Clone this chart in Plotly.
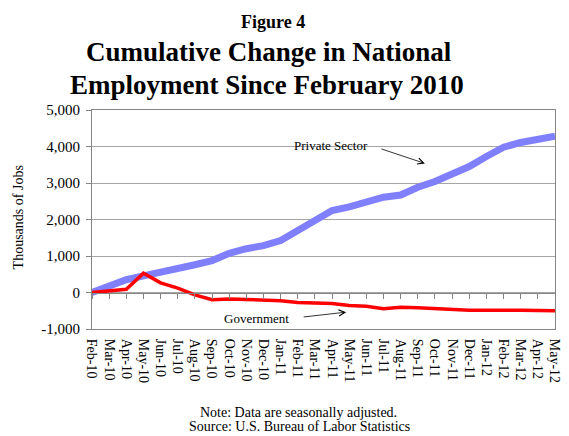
import plotly.graph_objects as go

# Months from February 2010 through May 2012
months = [
    "Feb-10", "Mar-10", "Apr-10", "May-10", "Jun-10", "Jul-10", "Aug-10",
    "Sep-10", "Oct-10", "Nov-10", "Dec-10", "Jan-11", "Feb-11", "Mar-11",
    "Apr-11", "May-11", "Jun-11", "Jul-11", "Aug-11", "Sep-11", "Oct-11",
    "Nov-11", "Dec-11", "Jan-12", "Feb-12", "Mar-12", "Apr-12", "May-12",
]

# Cumulative change since Feb 2010, thousands of jobs
private_sector = [
    0, 180, 350, 455, 545, 640, 760, 875, 1075, 1200, 1285, 1425, 1690, 1970,
    2245, 2345, 2455, 2610, 2670, 2885, 3040, 3225, 3450, 3725, 3980, 4110,
    4185, 4280,
]
government = [
    0, 55, 90, 530, 265, 120, -65, -200, -175, -190, -200, -228, -272, -283,
    -300, -355, -375, -445, -405, -420, -447, -475, -484, -484, -475, -484,
    -493, -502,
]

y_ticks = [-1000, 0, 1000, 2000, 3000, 4000, 5000]
y_tick_text = ["-1,000", "0", "1,000", "2,000", "3,000", "4,000", "5,000"]

SERIF = "Liberation Serif, Times New Roman, serif"
AXIS_GRAY = "#868686"

fig = go.Figure()
fig.add_trace(go.Scatter(
    x=months, y=private_sector, mode="lines", name="Private Sector",
    line=dict(color="#8080FF", width=7), xaxis="x", yaxis="y",
    hoverinfo="x+y",
))
fig.add_trace(go.Scatter(
    x=months, y=government, mode="lines", name="Government",
    line=dict(color="#FF0000", width=3.5), xaxis="x2", yaxis="y",
    hoverinfo="x+y",
))

n = len(months)
common_x = dict(
    type="category", categoryorder="array", categoryarray=months,
    range=[0, n - 1], tickmode="array", tickvals=months,
)

annotations = [
    dict(text="<b>Figure 4</b>", x=0.392, y=1.404, font=dict(size=18)),
    dict(text="<b>Cumulative Change in National</b>", x=0.383, y=1.263,
         font=dict(size=27)),
    dict(text="<b>Employment Since February 2010</b>", x=0.378, y=1.112,
         font=dict(size=27)),
    dict(text="Thousands of Jobs", x=-0.158, y=0.509, textangle=-90,
         font=dict(size=14)),
    dict(text="Private Sector", x=0.517, y=0.838, font=dict(size=13)),
    dict(text="Government", x=0.356, y=0.048, font=dict(size=13)),
    dict(text="Note: Data are seasonally adjusted.", x=0.4465, y=-0.381,
         font=dict(size=14)),
    dict(text="Source: U.S. Bureau of Labor Statistics", x=0.448, y=-0.445,
         font=dict(size=14)),
]
for a in annotations:
    a.update(xref="paper", yref="paper", showarrow=False,
             xanchor="center", yanchor="middle")
    a["font"].update(family=SERIF, color="black")

# Pointer arrows toward each series
arrows = [
    dict(x=0.719, y=0.756, ax=-45, ay=-15),
    dict(x=0.549, y=0.077, ax=-44, ay=5),
]
for a in arrows:
    a.update(xref="paper", yref="paper", text="", showarrow=True,
             arrowhead=5, arrowsize=1.5, arrowwidth=0.8, arrowcolor="black")
annotations += arrows

fig.update_layout(
    width=569, height=436,
    margin=dict(l=92, r=7, t=110, b=107),
    paper_bgcolor="white", plot_bgcolor="white",
    showlegend=False,
    font=dict(family=SERIF, color="black"),
    xaxis=dict(
        **common_x,
        showgrid=False, zeroline=False,
        showline=True, linecolor=AXIS_GRAY, linewidth=1, mirror=True,
        ticks="", tickangle=90, tickfont=dict(size=14, family=SERIF),
        ticklabelstandoff=6,
    ),
    xaxis2=dict(
        **common_x,
        overlaying="x", anchor="free", position=1 / 6,
        showgrid=False, zeroline=False, showticklabels=False,
        showline=True, linecolor=AXIS_GRAY, linewidth=1,
        ticks="outside", ticklen=5, tickcolor=AXIS_GRAY,
    ),
    yaxis=dict(
        range=[-1000, 5000], tickmode="array", tickvals=y_ticks,
        ticktext=y_tick_text, tickfont=dict(size=15, family=SERIF),
        showgrid=True, gridcolor="#A6A6A6", gridwidth=1, zeroline=False,
        showline=True, linecolor=AXIS_GRAY, linewidth=1, mirror=True,
        ticks="outside", ticklen=5, tickcolor=AXIS_GRAY,
        ticklabelstandoff=3,
    ),
    annotations=annotations,
)

fig.write_html("out.html")
